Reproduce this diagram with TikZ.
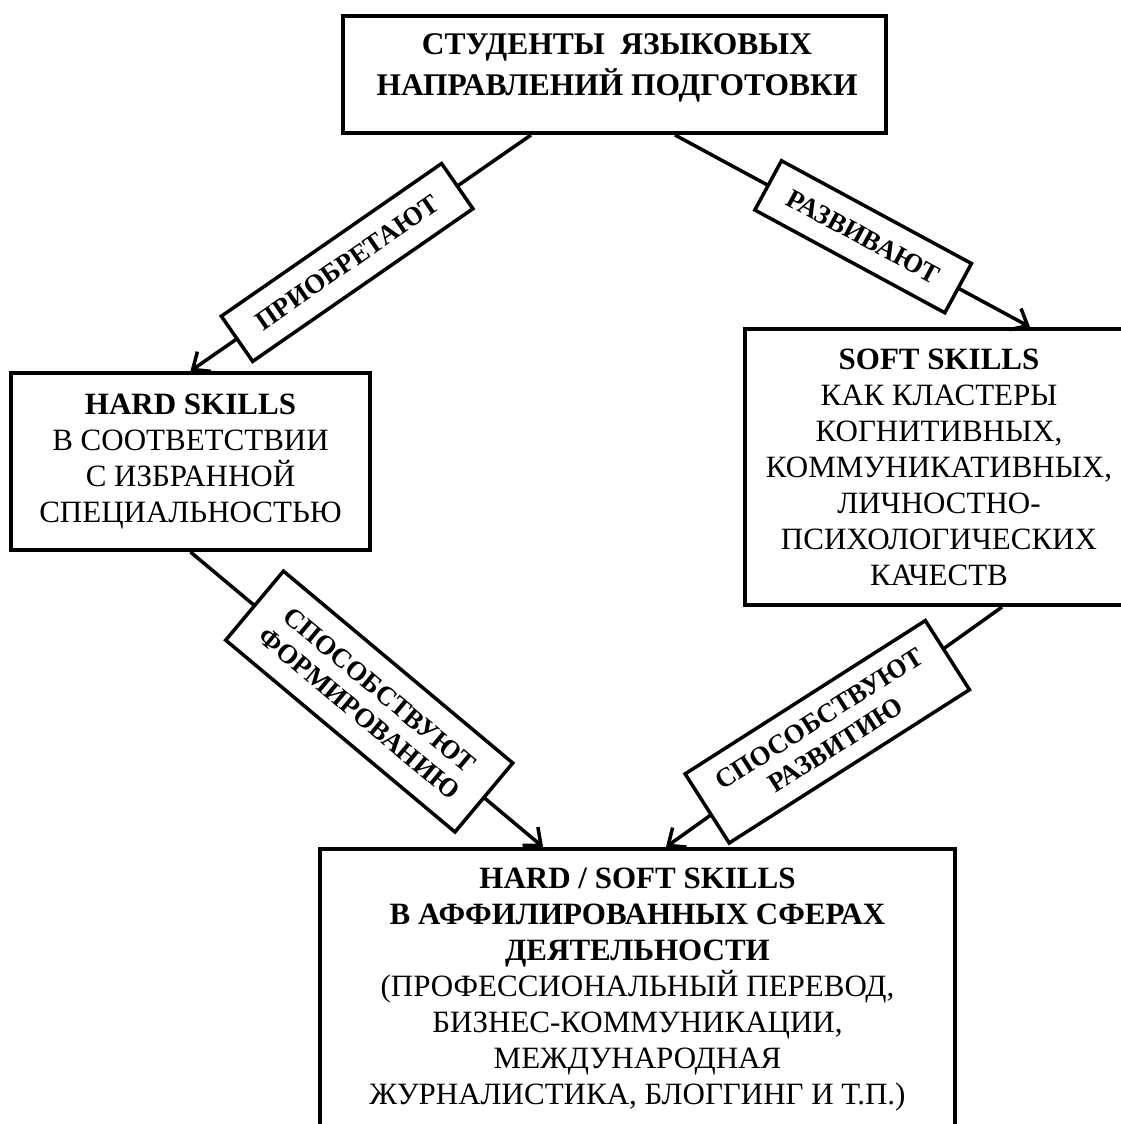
\documentclass[tikz,border=0pt]{standalone}
\usepackage{fontspec}
\setmainfont{Liberation Serif}
\usetikzlibrary{arrows.meta}
\begin{document}
\begin{tikzpicture}[x=1pt,y=-1pt,
  box/.style={draw, line width=4pt, rectangle, inner sep=0pt, align=center,
    font=\fontsize{31}{36}\selectfont},
  lab/.style={draw, line width=3.5pt, fill=white, inner sep=0pt, align=center,
    sloped, font=\bfseries\fontsize{27}{31}\selectfont},
  conn/.style={line width=3.5pt, -{Straight Barb[length=14pt,width=24pt]}}
]
\useasboundingbox (0,0) rectangle (1121,1124);
\clip (0,0) rectangle (1121,1124);

\node[box, minimum width=543pt, minimum height=117pt] (top) at (614.5,74.5) {};
\node[font=\bfseries\fontsize{31.5}{41}\selectfont, align=center, inner sep=0pt] (toptext) at (617,68)
  {СТУДЕНТЫ\ \ ЯЗЫКОВЫХ\\НАПРАВЛЕНИЙ ПОДГОТОВКИ};

\node[box, minimum width=359pt, minimum height=177pt] (hard) at (190.5,461.5)
  {\textbf{HARD SKILLS}\\В СООТВЕТСТВИИ\\С ИЗБРАННОЙ\\СПЕЦИАЛЬНОСТЬЮ};

\node[box, minimum width=388pt, minimum height=276pt] (soft) at (939,467)
  {\textbf{SOFT SKILLS}\\КАК КЛАСТЕРЫ\\КОГНИТИВНЫХ,\\КОММУНИКАТИВНЫХ,\\ЛИЧНОСТНО-\\ПСИХОЛОГИЧЕСКИХ\\КАЧЕСТВ};

\node[box, minimum width=635pt, minimum height=282pt] (bottom) at (637.5,990)
  {\textbf{HARD / SOFT SKILLS}\\\textbf{В АФФИЛИРОВАННЫХ СФЕРАХ}\\\textbf{ДЕЯТЕЛЬНОСТИ}\\(ПРОФЕССИОНАЛЬНЫЙ ПЕРЕВОД,\\БИЗНЕС-КОММУНИКАЦИИ,\\МЕЖДУНАРОДНАЯ\\ЖУРНАЛИСТИКА, БЛОГГИНГ И Т.П.)};

\draw[conn] ([xshift=190pt]top.south west) -- node[lab, pos=0.54, minimum width=268pt, minimum height=55pt] (l1) {ПРИОБРЕТАЮТ} (hard.north);
\draw[conn] ([xshift=334pt]top.south west) -- node[lab, pos=0.53, minimum width=216pt, minimum height=56pt] (l2) {РАЗВИВАЮТ} ([xshift=287pt]soft.north west);
\draw[conn] (hard.south) -- node[lab, pos=0.507, minimum width=299pt, minimum height=90pt] (l3) {СПОСОБСТВУЮТ\\ФОРМИРОВАНИЮ} ([xshift=225pt]bottom.north west);
\draw[conn] ([xshift=259pt]soft.south west) -- node[lab, pos=0.52, minimum width=285pt, minimum height=82pt, rotate=-3] (l4) {СПОСОБСТВУЮТ\\РАЗВИТИЮ} ([xshift=348pt]bottom.north west);
\end{tikzpicture}
\end{document}
